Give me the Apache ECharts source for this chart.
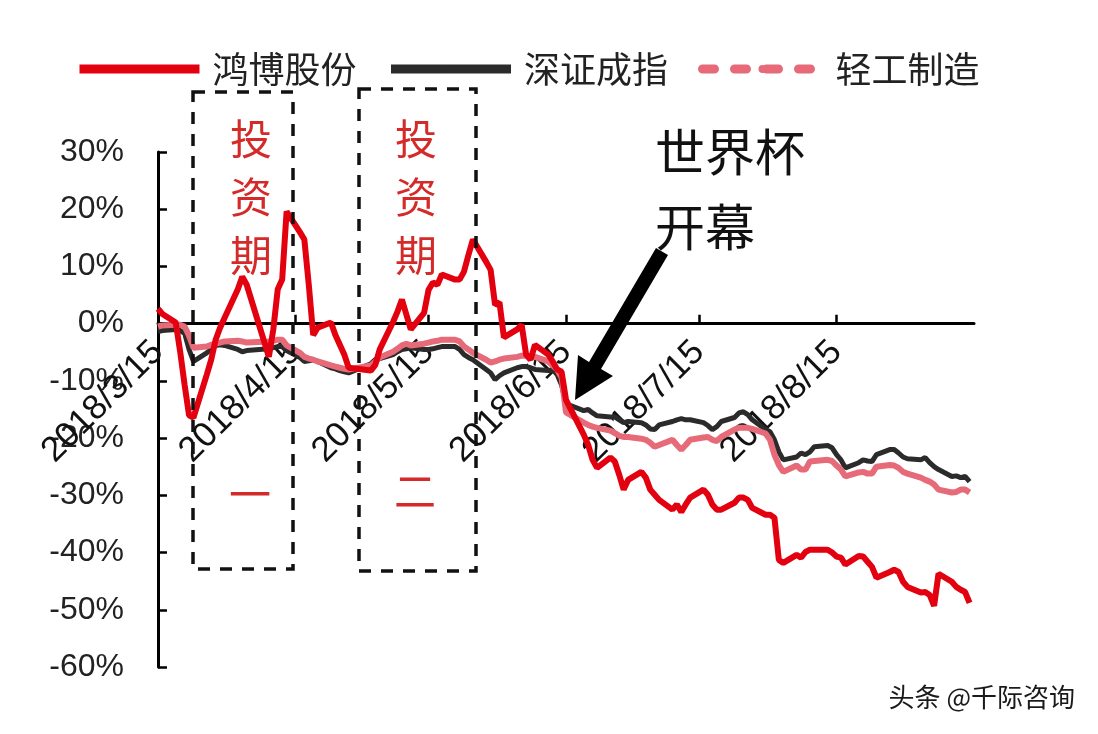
<!DOCTYPE html>
<html>
<head>
<meta charset="utf-8">
<script src="https://cdn.jsdelivr.net/npm/echarts@6/dist/echarts.min.js"></script>
<style>
html,body{margin:0;padding:0;background:#fff;}
#chart{width:1098px;height:734px;}
</style>
</head>
<body>
<div id="chart"></div>
<script>
const dates = [
'2018-03-15','2018-03-16','2018-03-19','2018-03-20','2018-03-21','2018-03-22','2018-03-23',
'2018-03-26','2018-03-27','2018-03-28','2018-03-29','2018-03-30',
'2018-04-02','2018-04-03','2018-04-04',
'2018-04-09','2018-04-10','2018-04-11','2018-04-12','2018-04-13',
'2018-04-16','2018-04-17','2018-04-18','2018-04-19','2018-04-20',
'2018-04-23','2018-04-24','2018-04-25','2018-04-26','2018-04-27',
'2018-05-02','2018-05-03','2018-05-04',
'2018-05-07','2018-05-08','2018-05-09','2018-05-10','2018-05-11',
'2018-05-14','2018-05-15','2018-05-16','2018-05-17','2018-05-18',
'2018-05-21','2018-05-22','2018-05-23','2018-05-24','2018-05-25',
'2018-05-28','2018-05-29','2018-05-30','2018-05-31','2018-06-01',
'2018-06-04','2018-06-05','2018-06-06','2018-06-07','2018-06-08',
'2018-06-11','2018-06-12','2018-06-13','2018-06-14','2018-06-15',
'2018-06-19','2018-06-20','2018-06-21','2018-06-22',
'2018-06-25','2018-06-26','2018-06-27','2018-06-28','2018-06-29',
'2018-07-02','2018-07-03','2018-07-04','2018-07-05','2018-07-06',
'2018-07-09','2018-07-10','2018-07-11','2018-07-12','2018-07-13',
'2018-07-16','2018-07-17','2018-07-18','2018-07-19','2018-07-20',
'2018-07-23','2018-07-24','2018-07-25','2018-07-26','2018-07-27',
'2018-07-30','2018-07-31','2018-08-01','2018-08-02','2018-08-03',
'2018-08-06','2018-08-07','2018-08-08','2018-08-09','2018-08-10',
'2018-08-13','2018-08-14','2018-08-15','2018-08-16','2018-08-17',
'2018-08-20','2018-08-21','2018-08-22','2018-08-23','2018-08-24',
'2018-08-27','2018-08-28','2018-08-29','2018-08-30','2018-08-31',
'2018-09-03','2018-09-04','2018-09-05','2018-09-06','2018-09-07',
'2018-09-10','2018-09-11','2018-09-12','2018-09-13','2018-09-14'
];
// 鸿博股份 (%)
const hongbo = [
2.6,1.7,0.2,-4.9,-10.7,-16.0,-16.4,
-8.9,-6.3,-2.8,-0.7,1.0,
6.0,8.2,6.8,
-5.8,-1.0,6.0,7.7,19.6,
16.0,14.7,6.8,-2.0,-0.7,
0.2,-2.0,-3.7,-5.4,-7.7,
-8.2,-7.2,-4.5,
0.3,2.1,4.2,1.6,-1.0,
1.9,5.9,7.2,6.8,8.6,
7.7,7.7,9.1,12.0,14.7,
10.8,9.4,3.3,3.7,-2.4,
-1.0,-0.2,-5.4,-6.3,-3.7,
-5.4,-6.6,-8.0,-8.4,-13.3,
-19.4,-21.2,-23.8,-25.2,
-23.4,-24.1,-26.4,-29.0,-27.3,
-25.9,-26.9,-29.0,-29.9,-30.8,
-32.5,-31.6,-32.9,-31.6,-30.4,
-29.0,-29.9,-31.6,-32.5,-32.5,
-31.3,-30.4,-30.4,-30.8,-32.2,
-33.4,-33.4,-33.9,-41.3,-41.8,
-40.4,-40.9,-39.9,-39.5,-39.5,
-39.5,-40.0,-40.7,-40.9,-42.1,
-40.6,-40.7,-41.6,-42.5,-44.4,
-43.4,-43.0,-43.4,-45.1,-46.0,
-47.0,-46.9,-47.4,-49.3,-43.7,
-45.1,-46.0,-46.5,-46.9,-48.8
];
// 深证成指 (%)
const szIndex = [
-1.4,-1.2,-1.0,-1.2,-1.7,-4.5,-6.6,
-5.1,-4.5,-3.8,-3.7,-3.8,
-4.5,-4.9,-4.7,
-4.4,-4.2,-4.0,-4.0,-4.7,
-5.9,-6.6,-6.5,-6.3,-6.6,
-7.7,-7.9,-8.2,-8.4,-8.6,
-7.0,-6.3,-6.1,
-5.4,-4.9,-4.5,-4.4,-4.2,
-4.5,-4.5,-4.4,-4.2,-4.0,
-4.0,-4.5,-5.4,-5.9,-6.3,
-8.0,-8.6,-9.8,-9.1,-8.6,
-7.7,-7.5,-7.5,-7.7,-8.0,
-8.2,-8.0,-8.9,-10.7,-14.0,
-15.2,-15.0,-15.6,-16.1,
-16.3,-16.3,-16.8,-17.3,-17.1,
-17.3,-17.7,-18.4,-18.5,-17.7,
-17.1,-16.8,-16.6,-16.8,-16.8,
-17.3,-17.8,-18.5,-18.0,-17.1,
-16.4,-15.6,-15.4,-15.9,-16.8,
-18.5,-18.9,-20.3,-22.4,-23.8,
-23.3,-22.6,-22.9,-22.4,-21.5,
-21.3,-21.7,-22.9,-23.8,-25.2,
-24.3,-23.8,-24.0,-24.1,-22.9,
-22.0,-22.0,-22.6,-23.3,-23.6,
-23.8,-23.4,-24.3,-25.0,-25.5,
-26.7,-26.6,-26.9,-26.7,-27.6
];
// 轻工制造 (%)
const lightInd = [
-0.5,-0.3,-0.2,-0.2,-0.5,-2.1,-4.2,
-4.0,-3.7,-3.5,-3.3,-3.1,
-3.0,-3.1,-3.3,
-3.1,-3.0,-2.8,-2.8,-3.8,
-5.1,-5.8,-6.1,-6.3,-6.6,
-7.3,-7.5,-7.7,-7.9,-8.0,
-7.3,-6.6,-5.9,
-4.9,-4.4,-3.8,-3.5,-3.8,
-3.5,-3.3,-3.1,-3.0,-2.8,
-2.8,-3.1,-4.0,-4.5,-5.1,
-6.3,-6.8,-6.6,-6.3,-6.1,
-5.8,-5.6,-5.6,-5.8,-5.8,
-6.6,-7.3,-8.0,-9.4,-15.5,
-17.3,-17.7,-18.0,-18.2,
-18.7,-19.1,-19.6,-19.8,-19.8,
-20.1,-20.3,-20.8,-21.5,-21.2,
-20.3,-21.2,-22.0,-21.2,-20.3,
-19.9,-19.8,-20.3,-20.5,-19.8,
-18.5,-18.2,-18.2,-18.2,-18.4,
-19.2,-20.3,-22.9,-24.7,-25.9,
-24.8,-25.5,-25.5,-24.1,-24.0,
-23.8,-24.0,-24.8,-25.5,-26.7,
-26.0,-25.9,-26.2,-26.2,-25.0,
-24.7,-24.8,-25.2,-25.9,-26.2,
-26.9,-27.3,-27.6,-28.1,-29.0,
-29.5,-29.4,-29.0,-29.0,-29.5
];
const tickDates = ['2018-03-15','2018-04-15','2018-05-15','2018-06-15','2018-07-15','2018-08-15'];
const xStart = '2018-03-15', xEnd = '2018-09-15';
const yMin = -60, yMax = 30, yStep = 10;

const toTs = s => { const p = s.split('-').map(Number); return new Date(p[0], p[1]-1, p[2]).getTime(); };
const tickTs = tickDates.map(toTs);
const pair = arr => dates.map((d,i)=>[toTs(d), arr[i]]);

const chart = echarts.init(document.getElementById('chart'), null, {renderer:'canvas'});
const fontLatin = '"Liberation Sans", Arial, sans-serif';
const fontCJK = '"Noto Sans CJK SC", sans-serif';

const gridTop = 152, gridBottom = 67, chartH = 734;
const plotH = chartH - gridTop - gridBottom;
const zeroOffset = plotH * (0 - yMin) / (yMax - yMin); // distance from bottom of grid to zero line
const dateFmt = v => { const d = new Date(v); return d.getFullYear() + '/' + (d.getMonth()+1) + '/' + d.getDate(); };

const option = {
  backgroundColor: '#fff',
  animation: false,
  grid: {left: 158, right: 124, top: gridTop, bottom: gridBottom, containLabel: false, outerBoundsMode: 'none'},
  legend: {
    left: 70, top: 46,
    itemWidth: 120, itemHeight: 10, itemGap: 30,
    textStyle: {fontSize: 36, fontFamily: fontCJK, color: '#222', padding: [0, 0, 0, 8]},
    lineStyle: {width: 9},
    data: [
      {name: '鸿博股份'},
      {name: '深证成指'},
      {name: '轻工制造', lineStyle: {type: [12, 20], cap: 'round', width: 9}}
    ]
  },
  xAxis: [{
    type: 'value',
    min: toTs(xStart), max: toTs(xEnd),
    axisLine: {onZero: true, lineStyle: {color: '#000', width: 3}},
    axisTick: {show: true, inside: true, length: 9, lineStyle: {color: '#000', width: 2.5}, customValues: tickTs},
    splitLine: {show: false},
    axisLabel: {show: false}
  }, {
    type: 'value', position: 'bottom', offset: -zeroOffset,
    min: toTs(xStart), max: toTs(xEnd),
    axisLine: {show: false, onZero: false},
    axisTick: {show: false},
    splitLine: {show: false},
    axisLabel: {
      customValues: tickTs,
      rotate: 45, margin: 23,
      fontSize: 35, fontFamily: fontLatin, color: '#111',
      formatter: dateFmt
    }
  }],
  yAxis: {
    type: 'value', min: yMin, max: yMax, interval: yStep,
    axisLine: {show: true, onZero: false, lineStyle: {color: '#000', width: 3}},
    axisTick: {show: true, inside: true, length: 9, lineStyle: {color: '#000', width: 2.5}},
    splitLine: {show: false},
    axisLabel: {margin: 34, fontSize: 32, fontFamily: fontLatin, color: '#222', formatter: v => v + '%'}
  },
  series: [
    {name: '深证成指', type: 'line', data: pair(szIndex), symbol: 'none', z: 2,
     lineStyle: {color: '#2b2b2b', width: 5}, itemStyle: {color: '#2b2b2b'}},
    {name: '轻工制造', type: 'line', data: pair(lightInd), symbol: 'none', z: 3,
     lineStyle: {color: '#e66a78', width: 6}, itemStyle: {color: '#e66a78'}},
    {name: '鸿博股份', type: 'line', data: pair(hongbo), symbol: 'none', z: 4,
     lineStyle: {color: '#e3000f', width: 6}, itemStyle: {color: '#e3000f'}}
  ],
  graphic: [
    {type: 'rect', shape: {x: 193, y: 92, width: 100, height: 477}, z: 10,
     style: {fill: 'none', stroke: '#111', lineWidth: 3.5, lineDash: [12, 10]}},
    {type: 'rect', shape: {x: 359, y: 89, width: 117, height: 482}, z: 10,
     style: {fill: 'none', stroke: '#111', lineWidth: 3.5, lineDash: [12, 10]}},
    {type: 'text', x: 251, y: 110, z: 11, style: {text: '投\n资\n期', fill: '#d42a2a', font: '42px ' + fontCJK, lineHeight: 58, align: 'center', verticalAlign: 'top'}},
    {type: 'text', x: 416, y: 110, z: 11, style: {text: '投\n资\n期', fill: '#d42a2a', font: '42px ' + fontCJK, lineHeight: 58, align: 'center', verticalAlign: 'top'}},
    {type: 'text', x: 250, y: 494, z: 11, style: {text: '一', fill: '#d42a2a', font: '42px ' + fontCJK, align: 'center', verticalAlign: 'middle'}},
    {type: 'text', x: 415, y: 491, z: 11, style: {text: '二', fill: '#d42a2a', font: '42px ' + fontCJK, align: 'center', verticalAlign: 'middle'}},
    {type: 'text', x: 655, y: 152, z: 11, style: {text: '世界杯', fill: '#111', font: '50px ' + fontCJK, align: 'left', verticalAlign: 'middle'}},
    {type: 'text', x: 655, y: 227, z: 11, style: {text: '开幕', fill: '#111', font: '50px ' + fontCJK, align: 'left', verticalAlign: 'middle'}},
    {type: 'polygon', z: 12, shape: {points: [[656,248],[668,255],[601,369],[613,376],[575,400],[578,355],[589,362]]}, style: {fill: '#000'}},
    {type: 'text', x: 1075, y: 697, z: 11, style: {text: '头条 @千际咨询', fill: '#1a1a1a', font: '26px ' + fontCJK, align: 'right', verticalAlign: 'middle'}}
  ]
};
chart.setOption(option);
</script>
</body>
</html>
